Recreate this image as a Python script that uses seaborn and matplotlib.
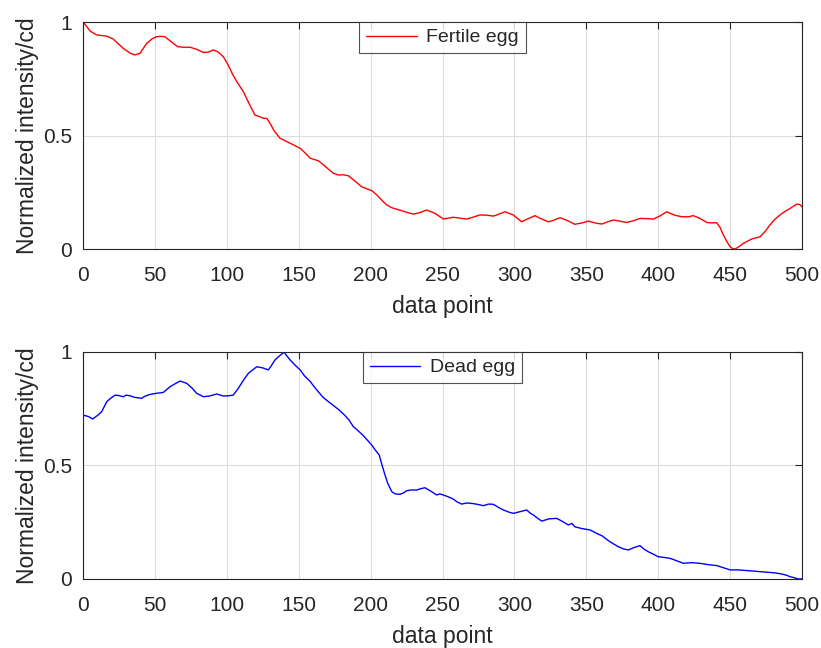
import pandas as pd
import numpy as np
import matplotlib.pyplot as plt
import seaborn as sns

# Data fertile egg
fertile_x = [0, 1.4, 5, 9.5, 16.5, 21, 28, 33, 36, 39.6, 44.3, 48, 51, 54, 57, 62, 66, 70, 74.4, 79,
             83.7, 87, 90.6, 94, 97.6, 101, 104, 107, 111.5, 116, 119.6, 122, 125.4, 128, 130,
             133, 137, 144, 151, 155, 158, 163.6, 167, 170.6, 174, 177.5, 181, 184.5, 189, 193.8,
             200.8, 204, 207.7, 211, 214.7, 221.6, 226, 229.7, 234, 239, 244.8, 250.6, 257.5,
             262, 266.8, 271, 276, 281, 285.3, 289, 293.5, 299.2, 305, 309, 314.3, 318, 323.6,
             327, 331.7, 337, 342, 347, 351.4, 356, 360.7, 365, 368.8, 373, 378, 383, 387.3,
             392, 396.6, 401, 405.9, 411, 416.3, 421, 424.4, 429, 433.7, 437, 440.7, 443, 445.3,
             448, 450, 451.8, 453.4, 456, 459.2, 465, 470.8, 474, 477.7, 481, 484.7, 488, 491.7,
             496.3, 498.5, 500]
fertile_y = [1.0, 0.99, 0.96, 0.943, 0.938, 0.925, 0.884, 0.862, 0.855, 0.862, 0.906, 0.926, 0.935,
             0.937, 0.935, 0.91, 0.891, 0.889, 0.889, 0.88, 0.866, 0.867, 0.877, 0.868, 0.847,
             0.81, 0.77, 0.737, 0.693, 0.634, 0.59, 0.585, 0.576, 0.575, 0.554, 0.52, 0.488,
             0.466, 0.444, 0.42, 0.4, 0.389, 0.372, 0.352, 0.334, 0.326, 0.327, 0.323, 0.3,
             0.274, 0.257, 0.24, 0.216, 0.195, 0.182, 0.169, 0.16, 0.154, 0.16, 0.172, 0.157,
             0.132, 0.14, 0.136, 0.132, 0.14, 0.15, 0.149, 0.145, 0.153, 0.164, 0.15, 0.12,
             0.132, 0.147, 0.135, 0.12, 0.126, 0.138, 0.125, 0.109, 0.115, 0.123, 0.115, 0.11,
             0.12, 0.128, 0.123, 0.117, 0.125, 0.135, 0.134, 0.132, 0.145, 0.164, 0.15, 0.142,
             0.142, 0.147, 0.135, 0.117, 0.115, 0.116, 0.095, 0.062, 0.03, 0.01, 0.002, 0.0,
             0.01, 0.025, 0.044, 0.054, 0.075, 0.106, 0.13, 0.15, 0.165, 0.179, 0.198, 0.196,
             0.186]

# Data dead egg
dead_x = [0, 1.4, 4, 6.7, 10, 13, 16.5, 19, 22.3, 25, 28, 30, 32.7, 36, 40.8, 43, 46.6, 50, 55.9,
          60.5, 64, 67.5, 72.1, 76, 79, 83.7, 88, 93, 97.6, 101, 104.5, 108, 112, 115, 120.8,
          125, 128.9, 131, 133.5, 137, 139.8, 144, 147, 151, 154, 158, 161, 163.6, 167, 171.3,
          174, 178, 182.2, 185, 188, 191, 195, 198, 200.8, 203, 206, 208, 210, 212, 214.7,
          217, 220.5, 223, 225.1, 228, 232, 235, 237.8, 241, 246, 248, 250.6, 254, 257.5, 260,
          263.3, 267, 271.4, 275, 278.4, 282, 285.3, 289, 292.3, 296, 299.2, 303, 308.5, 311,
          313.2, 316, 319, 324, 329.4, 333, 337.5, 340, 342, 347, 352.6, 357.2, 361, 365.3,
          368, 372.3, 376, 379.2, 383, 387.3, 390, 393.1, 397, 400, 404, 408.2, 413, 417.5,
          423, 429, 435, 440.7, 445, 450, 456, 461.6, 468, 475.5, 481, 485.9, 489, 491.7,
          495, 497.5, 500]
dead_y = [0.72, 0.72, 0.715, 0.705, 0.72, 0.737, 0.781, 0.795, 0.81, 0.808, 0.803, 0.81, 0.807,
          0.8, 0.796, 0.805, 0.813, 0.817, 0.822, 0.847, 0.86, 0.872, 0.862, 0.84, 0.818, 0.803,
          0.806, 0.815, 0.806, 0.807, 0.81, 0.84, 0.88, 0.906, 0.935, 0.93, 0.921, 0.94, 0.965,
          0.985, 0.999, 0.965, 0.945, 0.921, 0.895, 0.87, 0.845, 0.825, 0.8, 0.778, 0.765,
          0.745, 0.72, 0.7, 0.671, 0.655, 0.631, 0.61, 0.59, 0.57, 0.546, 0.5, 0.458, 0.42,
          0.385, 0.375, 0.373, 0.38, 0.389, 0.392, 0.392, 0.398, 0.402, 0.39, 0.37, 0.375,
          0.37, 0.362, 0.352, 0.34, 0.33, 0.335, 0.332, 0.328, 0.323, 0.33, 0.329, 0.315,
          0.304, 0.295, 0.289, 0.295, 0.304, 0.29, 0.282, 0.268, 0.255, 0.265, 0.267, 0.255,
          0.238, 0.245, 0.23, 0.222, 0.216, 0.201, 0.19, 0.169, 0.158, 0.142, 0.132, 0.128,
          0.138, 0.147, 0.132, 0.12, 0.108, 0.098, 0.095, 0.091, 0.08, 0.069, 0.072, 0.069,
          0.063, 0.059, 0.05, 0.04, 0.04, 0.037, 0.034, 0.03, 0.027, 0.022, 0.017, 0.01,
          0.005, 0.0, 0.0]

xticks = [0, 50, 100, 150, 200, 250, 300, 350, 400, 450, 500]
yticks = [0, 0.5, 1]
ytick_labels = ['0', '0.5', '1']

fertileDf = pd.DataFrame({'x': fertile_x, 'y': fertile_y, 'label': 'Fertile egg'})
deadDf = pd.DataFrame({'x': dead_x, 'y': dead_y, 'label': 'Dead egg'})

sns.set_style('white')
plt.rcParams['font.family'] = ['Liberation Sans', 'DejaVu Sans']

fig = plt.figure(figsize=(8.21, 6.48), dpi=100)
ax1 = fig.add_axes([0.1011, 0.6157, 0.8758, 0.3503])
ax2 = fig.add_axes([0.1011, 0.1065, 0.8758, 0.3503])

for ax, df, col in [(ax1, fertileDf, '#ff0000'), (ax2, deadDf, '#0000ff')]:
    sns.lineplot(data=df, x='x', y='y', hue='label', palette=[col], linewidth=1.0,
                 ax=ax, sort=False, estimator=None)
    ax.set_xlim(0, 500)
    ax.set_ylim(0, 1)
    ax.set_xticks(xticks)
    ax.set_xticklabels([str(t) for t in xticks])
    ax.set_yticks(yticks)
    ax.set_yticklabels(ytick_labels)
    ax.grid(True, color='#dcdcdc', linewidth=0.8)
    ax.set_axisbelow(True)
    ax.tick_params(direction='in', length=5, width=0.8, colors='#262626',
                   labelsize=15, top=True, right=True)
    ax.tick_params(axis='x', pad=12.5)
    ax.tick_params(axis='y', pad=8)
    for s in ax.spines.values():
        s.set_color('#262626')
        s.set_linewidth(0.8)
    ax.set_xlabel('data point', fontsize=16.5, color='#262626', labelpad=7)
    ax.set_ylabel('Normalized intensity/cd', fontsize=16.5, color='#262626', labelpad=3)
    leg = ax.legend(loc='upper center', fontsize=14, frameon=True, fancybox=False,
                    borderpad=0.35, handlelength=2.6, handletextpad=0.5,
                    borderaxespad=0.0)
    leg.get_frame().set_edgecolor('#262626')
    leg.get_frame().set_linewidth(0.8)
    leg.set_title(None)

plt.savefig('out.png', dpi=100)
